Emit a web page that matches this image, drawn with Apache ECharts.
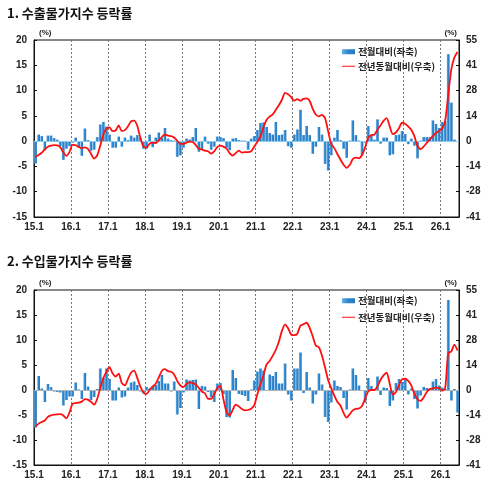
<!DOCTYPE html>
<html>
<head>
<meta charset="utf-8">
<script src="https://cdn.jsdelivr.net/npm/echarts@6/dist/echarts.min.js"></script>
<style>
html, body { margin: 0; padding: 0; background: #fff; }
#main { width: 495px; height: 492px; }
</style>
</head>
<body>
<div id="main"></div>
<script>
// panel titles and series names
var titles = ['1. 수출물가지수 등락률', '2. 수입물가지수 등락률'];
var seriesNames = ['전월대비(좌축)', '전년동월대비(우축)'];

// month categories 15.1 ... 26.6
var years = [15, 16, 17, 18, 19, 20, 21, 22, 23, 24, 25, 26];
var lastMonth = 6;
var months = [];
for (var y = 0; y < years.length; y++) {
    var mEnd = (y == years.length - 1) ? lastMonth : 12;
    for (var m = 1; m <= mEnd; m++) {
        months.push(years[y] + '.' + m);
    }
}

// axis ranges (left %, right %)
var leftAxis = [-15, 20, 5];
var rightAxis = [-41.25, 55, 13.75];

// 1. export price index, month-on-month (left axis)
var exportMoM = [
    -4.4, 1.3, 1.0, -1.8, 1.1, 1.1, 0.6, 0.3, -1.0, -3.7, -1.5, -1.0,
    -0.3, 0.7, -1.2, -2.9, 2.5, 0.2, -1.9, -1.7, 0.8, 3.3, 3.8, 2.9,
    1.3, -1.3, -1.3, 0.9, -1.1, 0.7, 0.2, 1.1, 0.7, 1.2, 0.7, -1.5,
    -1.5, 1.3, -1.2, 0.7, 1.7, 0.6, 2.6, 0.5, 0.2, 0.1, -3.1, -2.8,
    -1.3, 0.5, 0.3, 0.8, 2.6, -2.1, -1.7, 0.9, -0.5, -1.7, -1.1, 0.9,
    0.8, 0.6, -1.3, -1.8, 0.5, 0.6, 0.2, 0.1, 0.1, -1.7, 0.5, 1.0,
    2.2, 3.6, 3.7, 2.8, 1.6, 1.3, 3.8, 1.2, 1.3, 2.2, -1.0, -1.3,
    1.3, 2.3, 6.2, 1.2, 3.0, 1.2, -2.5, -1.1, 2.8, 1.3, -4.5, -5.8,
    -2.8, 0.7, 2.2, 0.2, -1.5, -3.3, 0.1, 4.1, 1.2, 0.1, -2.8, -0.3,
    3.0, 1.2, 0.3, 4.3, -0.5, 0.7, 0.7, -2.8, -2.6, 1.2, 1.3, 2.0,
    1.4, -0.6, 0.5, -0.9, -3.4, 0.1, 0.8, 0.8, 0.8, 4.1, 3.4, 2.6,
    3.8, 4.0, 17.2, 7.6, 0.3, 0
];
// 1. export price index, year-on-year (right axis)
var exportYoY = [
    -8.5, -7.5, -6.3, -4.5, -3.0, -2.4, -2.2, -2.3, -3.2, -6.0, -8.0, -6.0,
    -2.0, -2.2, -3.2, -3.8, -3.4, -4.2, -6.8, -9.5, -7.8, -2.5, 3.5, 6.8,
    7.5, 5.5, 5.8, 8.5, 5.5, 6.0, 8.0, 10.8, 11.2, 8.5, 2.0, -2.8,
    -3.5, -1.5, -0.8, -1.0, 0.5, 2.2, 3.6, 3.0, 2.7, 2.0, 0.2, -1.5,
    -1.5, -0.8, -0.3, -0.5, -2.0, -4.2, -4.5, -5.2, -5.5, -6.8, -5.5, -3.3,
    -2.4, -3.0, -4.0, -6.5, -7.8, -6.5, -5.2, -6.2, -6.0, -6.0, -5.5, -3.0,
    -0.5, 2.5, 7.5, 11.5, 13.3, 14.5, 17.0, 19.5, 22.5, 26.3, 25.5, 24.0,
    22.0, 22.8, 22.0, 23.0, 23.3, 22.0, 17.5, 14.5, 13.5, 14.3, 12.5, 5.5,
    -1.5, -3.8, -7.0, -10.0, -12.8, -14.5, -13.0, -9.8, -9.0, -9.3, -7.5, -3.5,
    1.8, 3.3, 3.5, 6.2, 8.5, 11.0, 12.5, 8.0, 3.8, 4.7, 7.0, 10.0,
    9.5, 8.0, 6.2, 2.7, -2.5, -4.3, -3.0, -1.0, 1.0, 2.7, 4.4, 5.5,
    6.7, 11.0, 25.0, 39.0, 45.5, 48.5
];

// 2. import price index, month-on-month (left axis)
var importMoM = [
    -7.5, 2.8, 0.3, -2.4, 1.2, 0.6, -0.3, -0.4, -0.5, -3.1, -2.0, -1.3,
    -1.3, 1.5, 0.1, -1.8, 3.4, 0.7, -2.0, -1.4, 0.2, 4.3, 2.4, 4.3,
    2.2, -2.1, -2.1, 0.5, -1.5, -1.3, 0.5, 1.5, 1.7, 1.0, -0.3, -0.7,
    0.6, 0.3, 0.7, 1.0, 1.8, 3.0, 1.3, 1.3, -0.3, 1.7, -4.9, -3.6,
    -0.5, 2.1, 1.9, 2.0, 2.1, -3.8, 0.8, 0.7, -0.4, -1.4, -2.4, 1.3,
    1.4, -0.8, -5.4, -5.5, 4.0, 2.4, -0.8, -1.0, -1.2, -2.2, 0.1, 1.9,
    3.7, 4.3, 3.9, -0.2, 3.1, 2.8, 3.6, 1.3, 1.3, 5.3, -0.9, -2.1,
    4.3, 4.3, 7.5, -0.6, 3.6, 0.5, -2.7, -0.9, 3.3, 1.1, -5.4, -6.4,
    -2.5, 1.9, 0.8, 0.6, -1.6, -3.9, 0.1, 4.3, 3.0, 0.9, -0.2, -2.5,
    2.4, 0.8, 0.2, 2.7, -1.0, 0.5, 0.4, -3.2, -2.1, 1.4, 2.2, 1.6,
    2.1, -0.9, 0.3, -1.8, -3.7, -1.1, 0.6, 0.4, 0.3, 1.7, 2.2, 0.9,
    0.5, 0.2, 18.0, -2.1, 0.2, -4.5
];
// 2. import price index, year-on-year (right axis)
var importYoY = [
    -20.2, -18.5, -17.6, -16.8, -14.8, -14.0, -13.6, -13.4, -13.3, -14.0, -15.6, -12.5,
    -7.6, -7.2, -7.0, -6.4, -5.0, -5.3, -6.5, -8.0, -5.0, 1.0, 6.5, 10.0,
    12.5, 9.2, 7.4, 9.0, 3.8, 2.5, 6.0, 9.5, 10.7, 6.8, 2.0, -1.2,
    -2.3, 0.0, 1.8, 3.4, 6.8, 10.5, 11.5, 10.4, 10.0, 8.5, 5.0, 2.5,
    1.6, 3.3, 4.2, 3.9, 3.0, 1.2, -0.8, -1.8, -4.8, -4.8, -2.3, 1.0,
    2.2, -5.0, -12.0, -14.0, -11.0, -8.0, -9.0, -10.5, -11.2, -11.0, -10.3, -8.5,
    -2.5, 3.0, 8.0, 14.0, 16.0, 18.8, 22.0, 26.5, 32.5, 36.0, 34.0, 30.5,
    30.2, 31.0, 35.4, 36.2, 37.0, 34.2, 29.5, 24.5, 23.5, 19.0, 12.5, 5.5,
    1.0, -3.0, -6.5, -8.5, -12.5, -15.2, -13.4, -11.2, -10.4, -10.2, -8.8, -4.8,
    -0.8, 0.0, 0.0, 2.0, 5.5, 8.0, 9.5, 3.5, -2.5, -1.2, 2.8, 5.8,
    6.2, 5.0, 2.5, -2.0, -5.0, -6.0, -4.2, -1.2, 0.5, 0.9, 1.3, 1.0,
    -0.3, 1.0, 20.3, 21.2, 25.0, 21.7
];

var panels = [
    { mom: exportMoM, yoy: exportYoY, top: 40, height: 177, titleTop: 7, legendTop: 47, legendGap: 5, zeroColor: '#8ccbf0' },
    { mom: importMoM, yoy: importYoY, top: 290, height: 175, titleTop: 255, legendTop: 296, legendGap: 7, zeroColor: '#b4b4b4' }
];

var numFont = 'Liberation Sans';
var krFont = 'Noto Sans CJK KR';
var barColor = new echarts.graphic.LinearGradient(0, 0, 1, 0, [
    { offset: 0, color: '#63b0e8' },
    { offset: 0.45, color: '#2e87cf' },
    { offset: 1, color: '#2a76bb' }
]);
// plain line for the legend (no symbol in the middle)
var lineIcon = 'path://M0,0 L0.01,0 L0.01,0.01 Z M0,10 L0.01,10 L0.01,9.99 Z M0,4 L26,4 L26,6.2 L0,6.2 Z';

var option = {
    animation: false,
    backgroundColor: '#fff',
    title: [],
    legend: [],
    grid: [],
    xAxis: [],
    yAxis: [],
    series: []
};

for (var p = 0; p < panels.length; p++) {
    var pn = panels[p];
    option.title.push({
        text: titles[p], left: 7, top: pn.titleTop, padding: 0,
        textStyle: { fontSize: 13, fontWeight: 'bold', fontFamily: krFont, color: '#111' }
    });
    option.legend.push({
        orient: 'vertical', left: 342, top: pn.legendTop, padding: 0,
        itemWidth: 13, itemHeight: 5, itemGap: pn.legendGap,
        textStyle: { fontSize: 9.5, fontWeight: 'bold', fontFamily: krFont, color: '#222', padding: [0, 0, 0, -2] },
        data: [
            { name: seriesNames[0], icon: 'rect' },
            { name: seriesNames[1], icon: lineIcon, itemStyle: { color: '#ff1010' } }
        ]
    });
    option.grid.push({
        left: 34, top: pn.top, width: 425, height: pn.height,
        show: true, borderColor: '#111', borderWidth: 1, backgroundColor: 'transparent'
    });
    option.xAxis.push({
        type: 'category', gridIndex: p, data: months, boundaryGap: true,
        axisLine: { show: true, onZero: false, lineStyle: { color: '#111', width: 1 } },
        axisTick: { show: false },
        axisLabel: {
            interval: function (i) { return i % 12 === 0; },
            color: '#222', fontSize: 10, fontWeight: 'bold', fontFamily: numFont,
            margin: 5, padding: [0, 3, 0, 0]
        },
        splitLine: {
            show: true,
            interval: function (i) { return i % 12 === 0 && i > 0; },
            lineStyle: { color: '#777', type: [2, 2], width: 1 }
        }
    });
    option.yAxis.push({
        type: 'value', gridIndex: p, position: 'left',
        min: leftAxis[0], max: leftAxis[1], interval: leftAxis[2],
        name: '(%)', nameLocation: 'end', nameGap: 3,
        nameTextStyle: { fontSize: 8, fontWeight: 'bold', fontFamily: numFont, color: '#222', align: 'left', padding: [0, 0, 0, 5] },
        axisLine: { show: true, lineStyle: { color: '#111' } },
        axisTick: { show: true, inside: true, length: 3, lineStyle: { color: '#111' } },
        axisLabel: { color: '#222', fontSize: 10, fontWeight: 'bold', fontFamily: numFont, margin: 7 },
        splitLine: { show: false }
    });
    option.yAxis.push({
        type: 'value', gridIndex: p, position: 'right',
        min: rightAxis[0], max: rightAxis[1], interval: rightAxis[2],
        name: '(%)', nameLocation: 'end', nameGap: 3,
        nameTextStyle: { fontSize: 8, fontWeight: 'bold', fontFamily: numFont, color: '#222', align: 'right', padding: [0, 2, 0, 0] },
        axisLine: { show: true, lineStyle: { color: '#111' } },
        axisTick: { show: true, inside: true, length: 3, lineStyle: { color: '#111' } },
        axisLabel: {
            color: '#222', fontSize: 10, fontWeight: 'bold', fontFamily: numFont, margin: 7,
            formatter: function (v) { return (v < 0 ? '-' : '') + Math.round(Math.abs(v)); }
        },
        splitLine: { show: false }
    });
    option.series.push({
        name: seriesNames[0], type: 'bar', xAxisIndex: p, yAxisIndex: p * 2,
        data: pn.mom, barCategoryGap: '12%',
        itemStyle: { color: barColor },
        markLine: {
            silent: true, symbol: 'none', animation: false,
            label: { show: false },
            lineStyle: { color: pn.zeroColor, type: 'solid', width: 1.2 },
            data: [{ yAxis: 0 }]
        },
        z: 2
    });
    option.series.push({
        name: seriesNames[1], type: 'line', xAxisIndex: p, yAxisIndex: p * 2 + 1,
        data: pn.yoy, symbol: 'none', smooth: 0.25,
        lineStyle: { color: '#ff1010', width: 1.8 },
        itemStyle: { color: '#ff1010' },
        z: 5
    });
}

var myChart = echarts.init(document.getElementById('main'));
myChart.setOption(option);
</script>
</body>
</html>
